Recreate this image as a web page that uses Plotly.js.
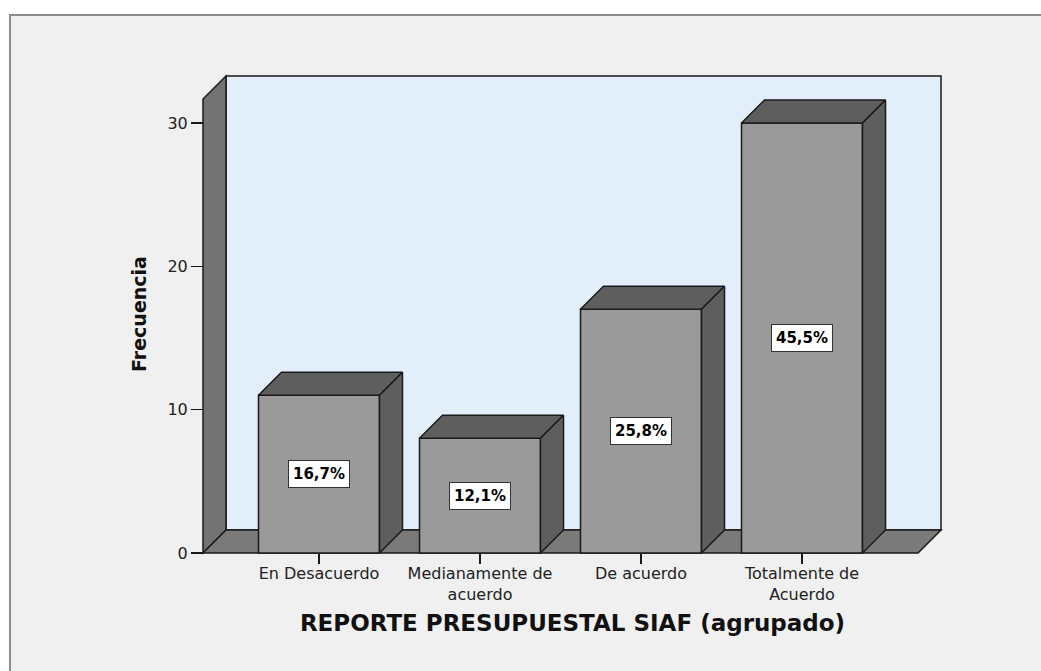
<!DOCTYPE html>
<html>
<head>
<meta charset="utf-8">
<script src="https://cdn.plot.ly/plotly-3.0.1.min.js"></script>
<style>html,body{margin:0;padding:0;background:#fff;}#chart{width:1041px;height:671px;}</style>
</head>
<body>
<div id="chart"></div>
<script>
// ---- data ----
const categories = ["En Desacuerdo", "Medianamente de<br>acuerdo", "De acuerdo", "Totalmente de<br>Acuerdo"];
const frequencies = [11, 8, 17, 30];
const pctLabels = ["16,7%", "12,1%", "25,8%", "45,5%"];
const yTickVals = [0, 10, 20, 30];

// ---- geometry (pixels) ----
const W = 1041, H = 671;
const plotL = 200, plotR = 945, plotT = 72, plotB = 556;
const zeroX = 319, pxPerCat = 161;      // pixel of category 0, px per category
const zeroY = 553, pxPerUnit = 430 / 30; // pixel of y=0, px per unit
const depthPx = 23;
const barHalfPx = 60.5;

const xr0 = (plotL - zeroX) / pxPerCat, xr1 = (plotR - zeroX) / pxPerCat;
const yr0 = (zeroY - plotB) / pxPerUnit, yr1 = (zeroY - plotT) / pxPerUnit;
const px2x = p => (p - zeroX) / pxPerCat;
const px2y = p => (zeroY - p) / pxPerUnit;
const DX = depthPx / pxPerCat, DY = depthPx / pxPerUnit;
const HW = barHalfPx / pxPerCat;

// walls
const xL = px2x(203), xR = px2x(941), yTop = px2y(76);

const xIdx = categories.map((c, i) => i);

// top & side faces of bars
const topX = [], topY = [], sideX = [], sideY = [];
frequencies.forEach((v, i) => {
  const l = i - HW, r = i + HW;
  topX.push(l, l + DX, r + DX, r, l, null);
  topY.push(v, v + DY, v + DY, v, v, null);
  sideX.push(r, r + DX, r + DX, r, r, null);
  sideY.push(0, DY, v + DY, v, 0, null);
});

const edge = {color: '#1a1a1a', width: 1.5};

const traces = [
  {
    type: 'bar', x: xIdx, y: frequencies, width: 2 * HW,
    marker: {color: '#9a9a9a', line: edge},
    hoverinfo: 'skip', showlegend: false
  },
  {
    type: 'scatter', mode: 'lines', x: topX, y: topY, fill: 'toself',
    fillcolor: '#5e5e5e', line: edge, hoverinfo: 'skip', showlegend: false
  },
  {
    type: 'scatter', mode: 'lines', x: sideX, y: sideY, fill: 'toself',
    fillcolor: '#5e5e5e', line: edge, hoverinfo: 'skip', showlegend: false
  }
];

const P = (pts) => 'M ' + pts.map(p => p[0] + ',' + p[1]).join(' L ') + ' Z';

const shapes = [
  // outer frame
  {type: 'rect', xref: 'paper', yref: 'paper', layer: 'below',
   x0: (10 - plotL) / (plotR - plotL), x1: (W + 60 - plotL) / (plotR - plotL),
   y0: (plotB - (H + 60)) / (plotB - plotT), y1: (plotB - 15) / (plotB - plotT),
   fillcolor: '#f0f0f0', line: {color: '#8c8c8c', width: 2}},
  // back wall
  {type: 'path', xref: 'x', yref: 'y', layer: 'below',
   path: P([[xL + DX, DY], [xR, DY], [xR, yTop], [xL + DX, yTop]]),
   fillcolor: '#e2eefa', line: edge},
  // left wall
  {type: 'path', xref: 'x', yref: 'y', layer: 'below',
   path: P([[xL, 0], [xL, yTop - DY], [xL + DX, yTop], [xL + DX, DY]]),
   fillcolor: '#737373', line: edge},
  // floor
  {type: 'path', xref: 'x', yref: 'y', layer: 'below',
   path: P([[xL, 0], [xR - DX, 0], [xR, DY], [xL + DX, DY]]),
   fillcolor: '#7a7a7a', line: edge}
];

const annotations = frequencies.map((v, i) => ({
  x: i, y: v / 2, xref: 'x', yref: 'y', text: '<b>' + pctLabels[i] + '</b>',
  showarrow: false, bgcolor: '#ffffff', bordercolor: '#333333', borderwidth: 1,
  borderpad: 4, font: {family: 'DejaVu Sans', size: 15, color: '#000'}
}));

const layout = {
  width: W, height: H,
  margin: {l: plotL, r: W - plotR, t: plotT, b: H - plotB, pad: 0},
  paper_bgcolor: '#ffffff', plot_bgcolor: 'rgba(0,0,0,0)',
  showlegend: false,
  xaxis: {
    range: [xr0, xr1], anchor: 'free', position: (plotB - zeroY) / (plotB - plotT),
    tickmode: 'array', tickvals: xIdx, ticktext: categories,
    ticks: 'outside', ticklen: 10, tickwidth: 1.5, tickcolor: '#1a1a1a',
    ticklabelstandoff: -4,
    showgrid: false, zeroline: false, showline: false,
    tickfont: {family: 'DejaVu Sans', size: 16, color: '#222'},
    title: {text: '<b>REPORTE PRESUPUESTAL SIAF (agrupado)</b>', standoff: 11,
            font: {family: 'DejaVu Sans', size: 23, color: '#111'}},
    fixedrange: true
  },
  yaxis: {
    range: [yr0, yr1], anchor: 'free', position: (203 - plotL) / (plotR - plotL),
    tickmode: 'array', tickvals: yTickVals,
    ticks: 'outside', ticklen: 12, tickwidth: 1.5, tickcolor: '#1a1a1a',
    showgrid: false, zeroline: false, showline: false,
    tickfont: {family: 'DejaVu Sans', size: 16, color: '#222'},
    title: {text: '<b>Frecuencia</b>', standoff: 14,
            font: {family: 'DejaVu Sans', size: 19, color: '#111'}},
    fixedrange: true
  },
  shapes: shapes,
  annotations: annotations
};

Plotly.newPlot('chart', traces, layout, {displayModeBar: false, staticPlot: true});
</script>
</body>
</html>
